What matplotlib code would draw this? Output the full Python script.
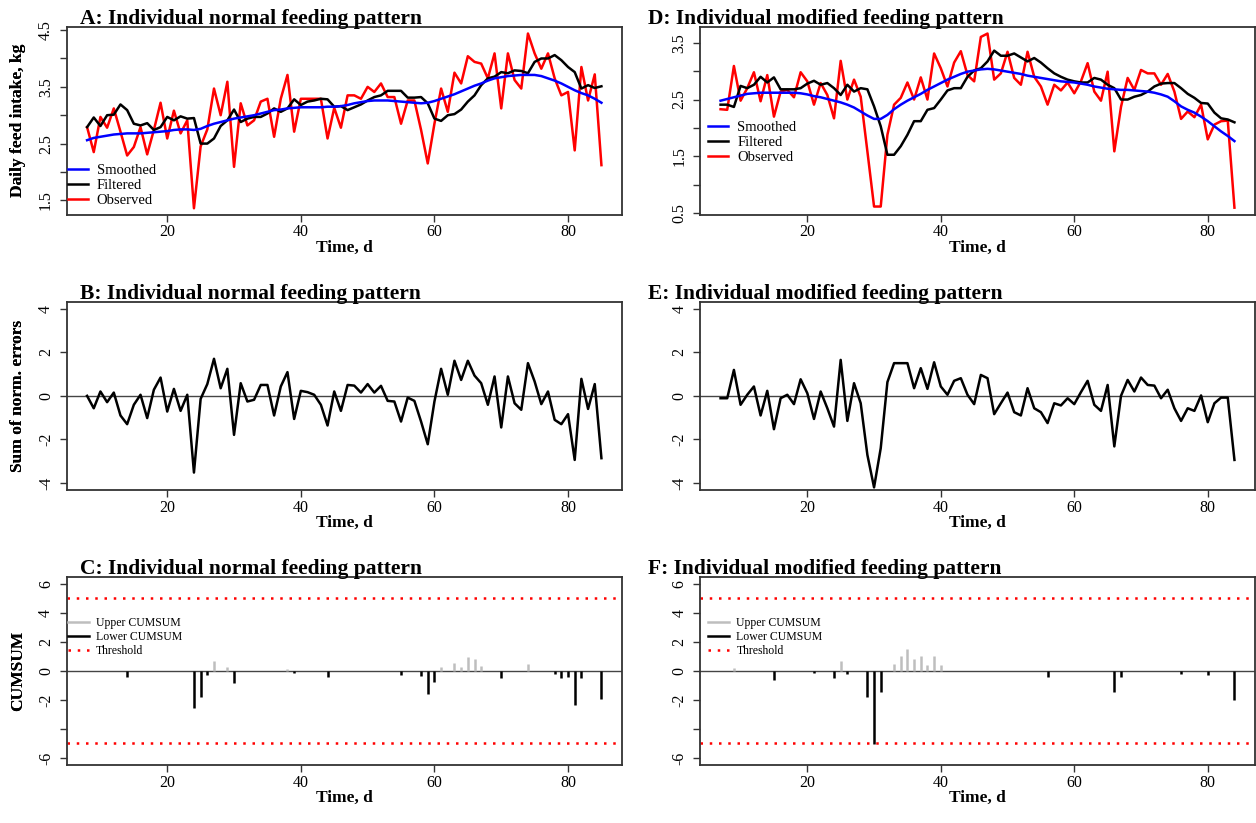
import matplotlib
matplotlib.use('Agg')
import matplotlib.pyplot as plt
from matplotlib.lines import Line2D

W, H = 1256, 823
plt.rcParams['font.family'] = ['Liberation Serif', 'DejaVu Serif']

# ---------------- data ----------------
days_A = list(range(8, 86))
days_D = list(range(7, 85))

obs_A = [2.79, 2.35, 2.97, 2.78, 3.12, 2.71, 2.29, 2.44, 2.79, 2.31,
         2.74, 3.22, 2.59, 3.08, 2.68, 2.91, 1.36, 2.45, 2.75, 3.47,
         3.00, 3.59, 2.09, 3.21, 2.82, 2.91, 3.24, 3.29, 2.62, 3.29,
         3.71, 2.71, 3.29, 3.29, 3.29, 3.29, 2.59, 3.13, 2.78, 3.35,
         3.35, 3.29, 3.50, 3.41, 3.56, 3.32, 3.32, 2.85, 3.26, 3.26,
         2.74, 2.15, 2.85, 3.47, 3.06, 3.75, 3.56, 4.04, 3.94, 3.91,
         3.65, 4.09, 3.12, 4.09, 3.62, 3.47, 4.44, 4.09, 3.82, 4.09,
         3.65, 3.35, 3.41, 2.38, 3.85, 3.26, 3.72, 2.12]
filt_A = [2.79, 2.96, 2.81, 3.00, 3.01, 3.19, 3.09, 2.85, 2.82, 2.86,
          2.74, 2.79, 2.97, 2.91, 2.98, 2.94, 2.95, 2.50, 2.50, 2.59,
          2.81, 2.91, 3.10, 2.88, 2.94, 2.97, 2.97, 3.03, 3.12, 3.06,
          3.12, 3.28, 3.18, 3.24, 3.26, 3.29, 3.28, 3.15, 3.16, 3.09,
          3.14, 3.19, 3.26, 3.32, 3.35, 3.43, 3.43, 3.43, 3.31, 3.31,
          3.32, 3.21, 2.94, 2.90, 3.00, 3.02, 3.10, 3.24, 3.35, 3.53,
          3.65, 3.68, 3.76, 3.74, 3.79, 3.78, 3.74, 3.94, 4.00, 4.00,
          4.06, 3.97, 3.85, 3.76, 3.47, 3.53, 3.48, 3.51]
smooth_A = [2.56, 2.60, 2.62, 2.64, 2.66, 2.67, 2.68, 2.68, 2.68, 2.69,
            2.70, 2.71, 2.72, 2.74, 2.75, 2.75, 2.74, 2.76, 2.81, 2.85,
            2.88, 2.91, 2.94, 2.96, 2.98, 3.00, 3.03, 3.06, 3.09, 3.10,
            3.12, 3.13, 3.14, 3.14, 3.14, 3.14, 3.15, 3.15, 3.16, 3.18,
            3.21, 3.23, 3.25, 3.26, 3.26, 3.26, 3.25, 3.24, 3.23, 3.22,
            3.21, 3.22, 3.25, 3.29, 3.33, 3.37, 3.42, 3.47, 3.52, 3.56,
            3.61, 3.65, 3.67, 3.69, 3.70, 3.71, 3.71, 3.71, 3.69, 3.65,
            3.61, 3.56, 3.50, 3.44, 3.39, 3.35, 3.29, 3.22]

obs_D = [2.33, 2.32, 3.09, 2.48, 2.70, 2.98, 2.47, 2.93, 2.20, 2.64,
         2.67, 2.54, 2.98, 2.82, 2.41, 2.79, 2.58, 2.17, 3.18, 2.50,
         2.85, 2.55, 1.59, 0.62, 0.62, 1.88, 2.41, 2.53, 2.80, 2.50,
         2.89, 2.50, 3.31, 3.05, 2.73, 3.15, 3.35, 2.93, 2.82, 3.60,
         3.66, 2.85, 2.96, 3.34, 2.88, 2.76, 3.34, 2.90, 2.73, 2.41,
         2.76, 2.66, 2.80, 2.61, 2.82, 3.14, 2.64, 2.48, 2.99, 1.59,
         2.37, 2.88, 2.67, 3.02, 2.96, 2.96, 2.76, 2.95, 2.64, 2.16,
         2.29, 2.19, 2.41, 1.80, 2.06, 2.12, 2.13, 0.60]
filt_D = [2.41, 2.41, 2.37, 2.74, 2.70, 2.76, 2.90, 2.80, 2.89, 2.68,
          2.68, 2.68, 2.70, 2.78, 2.83, 2.76, 2.79, 2.70, 2.58, 2.76,
          2.64, 2.70, 2.68, 2.38, 2.03, 1.53, 1.53, 1.68, 1.88, 2.12,
          2.12, 2.32, 2.35, 2.50, 2.66, 2.70, 2.70, 2.90, 3.01, 3.05,
          3.17, 3.36, 3.27, 3.27, 3.31, 3.24, 3.17, 3.23, 3.15, 3.05,
          2.96, 2.90, 2.85, 2.82, 2.80, 2.80, 2.88, 2.85, 2.76, 2.70,
          2.50, 2.50, 2.55, 2.58, 2.64, 2.73, 2.78, 2.79, 2.79, 2.70,
          2.60, 2.53, 2.44, 2.43, 2.27, 2.17, 2.15, 2.10]
smooth_D = [2.48, 2.51, 2.54, 2.57, 2.60, 2.61, 2.62, 2.62, 2.62, 2.62,
            2.62, 2.62, 2.61, 2.59, 2.56, 2.54, 2.51, 2.48, 2.45, 2.41,
            2.36, 2.29, 2.22, 2.16, 2.16, 2.23, 2.33, 2.41, 2.48, 2.54,
            2.60, 2.67, 2.73, 2.79, 2.85, 2.90, 2.95, 2.99, 3.01, 3.03,
            3.04, 3.03, 3.01, 2.99, 2.97, 2.95, 2.92, 2.90, 2.88, 2.86,
            2.84, 2.82, 2.81, 2.80, 2.78, 2.76, 2.73, 2.71, 2.69, 2.68,
            2.67, 2.67, 2.66, 2.65, 2.64, 2.62, 2.59, 2.55, 2.47, 2.38,
            2.32, 2.27, 2.20, 2.12, 2.03, 1.94, 1.86, 1.77]

err_B = [0.00, -0.57, 0.20, -0.29, 0.15, -0.90, -1.30, -0.41, 0.05, -1.02,
         0.28, 0.84, -0.72, 0.32, -0.69, 0.05, -3.52, -0.14, 0.54, 1.70,
         0.35, 1.24, -1.79, 0.58, -0.26, -0.18, 0.50, 0.50, -0.90, 0.43,
         1.09, -1.06, 0.23, 0.17, 0.05, -0.41, -1.36, 0.20, -0.69, 0.50,
         0.47, 0.15, 0.54, 0.15, 0.46, -0.23, -0.26, -1.18, -0.08, -0.23,
         -1.18, -2.22, -0.26, 1.24, 0.05, 1.61, 0.73, 1.61, 0.93, 0.58,
         -0.41, 0.89, -1.45, 0.89, -0.34, -0.64, 1.50, 0.66, -0.38, 0.20,
         -1.10, -1.30, -0.84, -2.94, 0.78, -0.60, 0.54, -2.86]
err_E = [-0.11, -0.11, 1.19, -0.41, 0.05, 0.43, -0.90, 0.23, -1.53, -0.11,
         0.05, -0.38, 0.76, 0.12, -1.06, 0.20, -0.57, -1.41, 1.65, -1.15,
         0.58, -0.34, -2.71, -4.20, -2.40, 0.63, 1.50, 1.50, 1.50, 0.35,
         1.27, 0.32, 1.54, 0.43, 0.05, 0.69, 0.81, 0.05, -0.38, 0.96,
         0.81, -0.84, -0.34, 0.15, -0.75, -0.90, 0.35, -0.57, -0.75, -1.25,
         -0.34, -0.44, -0.11, -0.38, 0.17, 0.69, -0.41, -0.69, 0.50, -2.32,
         0.00, 0.73, 0.20, 0.84, 0.50, 0.47, -0.11, 0.28, -0.57, -1.15,
         -0.57, -0.69, 0.02, -1.21, -0.34, -0.08, -0.08, -2.94]

upper_C_days = [27, 29, 38, 61, 63, 64, 65, 66, 67, 74]
upper_C = [0.71, 0.25, 0.14, 0.25, 0.57, 0.25, 0.94, 0.80, 0.34, 0.48]
lower_C_days = [14, 24, 25, 26, 30, 39, 44, 55, 58, 59, 60, 70, 78, 79, 80, 81, 82, 85]
lower_C = [-0.44, -2.57, -1.81, -0.30, -0.85, -0.16, -0.44, -0.30, -0.34, -1.58,
           -0.80, -0.50, -0.21, -0.50, -0.39, -2.34, -0.50, -1.95]
upper_F_days = [9, 25, 33, 34, 35, 36, 37, 38, 39, 40]
upper_F = [0.18, 0.71, 0.48, 0.99, 1.51, 0.82, 1.05, 0.41, 0.99, 0.41]
lower_F_days = [15, 21, 24, 26, 29, 30, 31, 56, 66, 67, 76, 80, 84]
lower_F = [-0.66, -0.16, -0.50, -0.21, -1.81, -5.02, -1.47, -0.39, -1.47, -0.44,
           -0.21, -0.30, -2.04]
threshold = 5

titles = ["A: Individual normal feeding pattern", "B: Individual normal feeding pattern",
          "C: Individual normal feeding pattern", "D: Individual modified feeding pattern",
          "E: Individual modified feeding pattern", "F: Individual modified feeding pattern"]
ylabels = ["Daily feed intake, kg", "Sum of norm. errors", "CUMSUM"]
xlabel = "Time, d"
xticks = [20, 40, 60, 80]

# ---------------- figure ----------------
fig = plt.figure(figsize=(W / 100, H / 100), dpi=100)

LEFTS = [(66.5, 622.0, 80.0), (700.0, 1255.0, 648.0)]
ROWS = [(27.0, 214.5), (301.7, 490.0), (576.7, 765.0)]


def add_ax(l, t, r, b):
    return fig.add_axes([l / W, 1 - b / H, (r - l) / W, (b - t) / H])


def style(ax, l, t, r, b, ylab, title, tx, yt, ytl):
    for s in ax.spines.values():
        s.set_color('#333333')
        s.set_linewidth(1.3)
    ax.set_xticks(xticks)
    ax.set_xticklabels([str(v) for v in xticks])
    ax.set_yticks(yt)
    ax.set_yticklabels(ytl, rotation=90, va='center')
    ax.tick_params(direction='out', length=5, width=1.0, labelsize=11.5,
                   color='#333333', pad=2)
    ax.tick_params(axis='y', pad=4)
    fig.text(tx / W, 1 - (t - 3) / H, title, ha='left', va='baseline',
             fontsize=15.5, fontweight='bold')
    fig.text(18 / W, 1 - ((t + b) / 2) / H, ylab, rotation=90, ha='center',
             va='center', fontsize=12.5, fontweight='bold')
    fig.text(((l + r) / 2) / W, 1 - (b + 33) / H, xlabel, ha='center',
             va='center', fontsize=12.5, fontweight='bold')


for col in range(2):
    l, r, tx = LEFTS[col]
    days = days_A if col == 0 else days_D
    xlo = days[0] - 0.04 * (days[-1] - days[0])
    xhi = days[-1] + 0.04 * (days[-1] - days[0])

    # row 1: intake
    t, b = ROWS[0]
    ax = add_ax(l, t, r, b)
    obs, filt, smo = (obs_A, filt_A, smooth_A) if col == 0 else (obs_D, filt_D, smooth_D)
    ax.plot(days, obs, color='#ff0000', lw=1.8, label='Observed')
    ax.plot(days, filt, color='black', lw=1.8, label='Filtered')
    ax.plot(days, smo, color='#0000ff', lw=1.8, label='Smoothed')
    ax.set_xlim(xlo, xhi)
    if col == 0:
        ax.set_ylim(1.25, 4.555)
        yt = [1.5, 2.0, 2.5, 3.0, 3.5, 4.0, 4.5]
        ytl = ['1.5', '', '2.5', '', '3.5', '', '4.5']
    else:
        ax.set_ylim(0.48, 3.775)
        yt = [0.5, 1.0, 1.5, 2.0, 2.5, 3.0, 3.5]
        ytl = ['0.5', '', '1.5', '', '2.5', '', '3.5']
    style(ax, l, t, r, b, ylabels[0], titles[col * 3], tx, yt, ytl)
    handles = [Line2D([], [], color='#0000ff', lw=1.8),
               Line2D([], [], color='black', lw=1.8),
               Line2D([], [], color='#ff0000', lw=1.8)]
    if col == 0:
        anchor = ((66.5 - l + 1) / (r - l), (b - 207) / (b - t))
        lg = ax.legend(handles, ['Smoothed', 'Filtered', 'Observed'], loc='lower left',
                       bbox_to_anchor=anchor, frameon=False, fontsize=10.5,
                       handlelength=1.4, handletextpad=0.6, labelspacing=0.12,
                       borderpad=0, borderaxespad=0)
    else:
        anchor = ((708 - l) / (r - l), (b - 164) / (b - t))
        lg = ax.legend(handles, ['Smoothed', 'Filtered', 'Observed'], loc='lower left',
                       bbox_to_anchor=anchor, frameon=False, fontsize=10.5,
                       handlelength=1.4, handletextpad=0.6, labelspacing=0.12,
                       borderpad=0, borderaxespad=0)

    # row 2: errors
    t, b = ROWS[1]
    ax = add_ax(l, t, r, b)
    err = err_B if col == 0 else err_E
    ax.axhline(0, color='#444444', lw=1.0)
    ax.plot(days, err, color='black', lw=1.8)
    ax.set_xlim(xlo, xhi)
    ax.set_ylim(-4.32, 4.32)
    style(ax, l, t, r, b, ylabels[1], titles[col * 3 + 1], tx,
          [-4, -2, 0, 2, 4], ['-4', '-2', '0', '2', '4'])

    # row 3: CUMSUM
    t, b = ROWS[2]
    ax = add_ax(l, t, r, b)
    if col == 0:
        ud, uv, ld, lv = upper_C_days, upper_C, lower_C_days, lower_C
    else:
        ud, uv, ld, lv = upper_F_days, upper_F, lower_F_days, lower_F
    ax.axhline(0, color='#444444', lw=1.0)
    ax.vlines(ud, 0, uv, color='#bebebe', lw=1.8)
    ax.vlines(ld, 0, lv, color='black', lw=1.8)
    ax.axhline(threshold, color='#ff0000', lw=1.8, ls=(0, (1, 2.7)))
    ax.axhline(-threshold, color='#ff0000', lw=1.8, ls=(0, (1, 2.7)))
    ax.set_xlim(xlo, xhi)
    ax.set_ylim(-6.48, 6.48)
    style(ax, l, t, r, b, ylabels[2], titles[col * 3 + 2], tx,
          [-6, -4, -2, 0, 2, 4, 6], ['-6', '', '-2', '0', '2', '4', '6'])
    handles = [Line2D([], [], color='#bebebe', lw=1.8),
               Line2D([], [], color='black', lw=1.8),
               Line2D([], [], color='#ff0000', lw=1.8, ls=(0, (1, 2.7)))]
    x0 = 67.5 if col == 0 else 708
    anchor = ((x0 - l) / (r - l), (b - 657) / (b - t))
    ax.legend(handles, ['Upper CUMSUM', 'Lower CUMSUM', 'Threshold'], loc='lower left',
              bbox_to_anchor=anchor, frameon=False, fontsize=8.5,
              handlelength=1.8, handletextpad=0.6, labelspacing=0.15,
              borderpad=0, borderaxespad=0)

fig.savefig('out.png', dpi=100)
